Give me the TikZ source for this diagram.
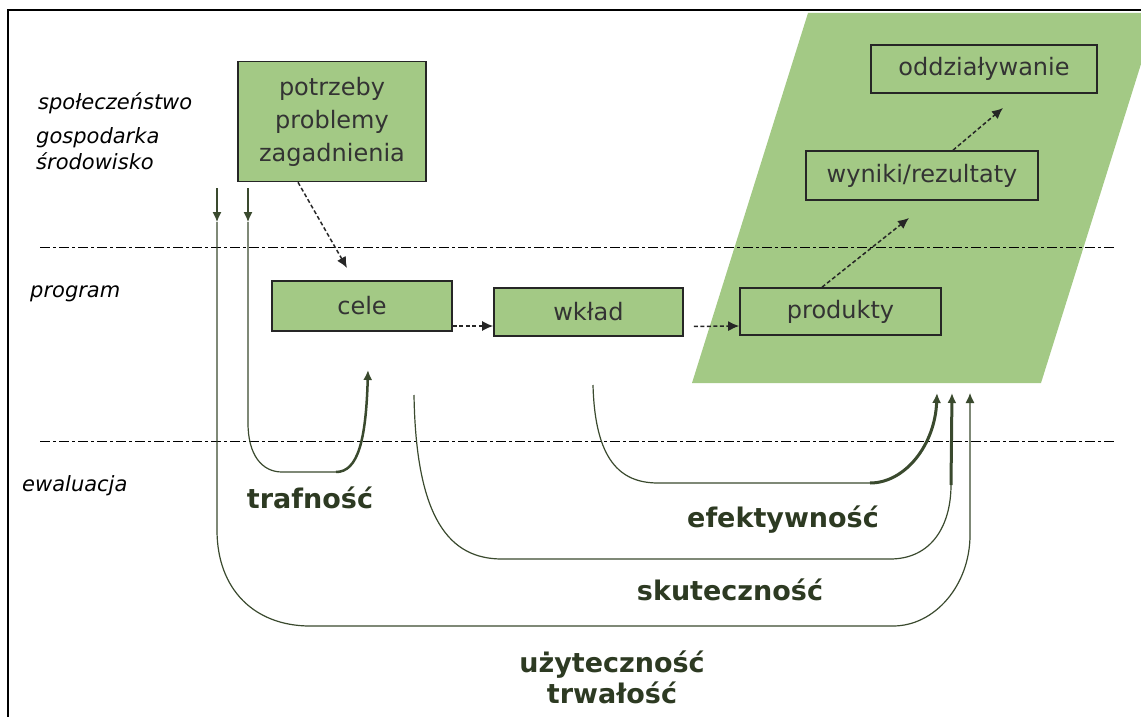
\documentclass[tikz,border=0pt]{standalone}
\usepackage{fontspec}
\setmainfont{DejaVu Sans}
\usetikzlibrary{arrows.meta}
\definecolor{fillg}{HTML}{A3C985}
\definecolor{lineg}{HTML}{3A4A2E}
\definecolor{txtg}{HTML}{2D3A22}
\begin{document}
\begin{tikzpicture}[x=1pt,y=-1pt,
  box/.style={draw=black!85, line width=1.6pt, inner sep=0pt, font=\fontsize{24}{33}\selectfont, text=black!80, align=center},
  gbox/.style={box, fill=fillg},
  dasharrow/.style={draw=black!85, line width=1.5pt, dash pattern=on 4pt off 2.5pt, -{Latex[length=11pt,width=10pt]}},
  evline/.style={draw=lineg, line width=1.2pt},
  evthick/.style={draw=lineg, line width=3pt},
  evtip/.style={-{Latex[length=10pt,width=9pt]}},
  side/.style={font=\fontsize{21}{25}\selectfont\itshape, anchor=base west, inner sep=0pt},
  evlabel/.style={font=\fontsize{27}{31}\selectfont\bfseries, text=txtg, align=center},
  level/.style={draw=black, line width=1pt, dash pattern=on 10pt off 3pt on 3pt off 3pt}
]
\useasboundingbox (0,0) rectangle (1141,717);
% frame
\draw[line width=2pt] (8,717) -- (8,10) -- (1141,10);
% green parallelogram
\begin{scope}
\clip (0,0) rectangle (1141,717);
\fill[fillg] (808,13) -- (1157,13) -- (1041,383) -- (692,383) -- cycle;
\end{scope}
% level lines
\draw[level] (40,247) -- (1115,247);
\draw[level] (40,441) -- (1115,441);
% side labels
\node[side] (spol) at (38,110) {społeczeństwo};
\node[side] (gosp) at (36,143) {gospodarka};
\node[side] (srod) at (36,169) {środowisko};
\node[side] (prog) at (30,297) {program};
\node[side] (ewal) at (22,491) {ewaluacja};
% boxes
\node[gbox, minimum width=188pt, minimum height=120pt] (pot) at (332,121.5) {potrzeby\\problemy\\zagadnienia};
\node[gbox, minimum width=180pt, minimum height=50pt] (cele) at (362,306) {cele};
\node[gbox, minimum width=189pt, minimum height=48pt] (wk) at (588.5,312) {wkład};
\node[box, minimum width=201pt, minimum height=47pt] (prod) at (840.5,311.5) {produkty};
\node[box, minimum width=232pt, minimum height=49pt] (wyn) at (922,175.5) {wyniki/rezultaty};
\node[box, minimum width=226pt, minimum height=48pt] (odd) at (984,69) {oddziaływanie};
% dashed arrows
\coordinate (c1) at (347,268);
\coordinate (c2) at (909,218);
\coordinate (c3) at (1003,108);
\draw[dasharrow] ([xshift=-34pt]pot.south) -- (c1);
\draw[dasharrow] ([yshift=-20pt]cele.east) -- ([yshift=-14pt]wk.west);
\draw[dasharrow, shorten <=10pt] ([yshift=-14.5pt]wk.east) -- ([yshift=-14.5pt]prod.west);
\draw[dasharrow] ([xshift=-18.5pt]prod.north) -- (c2);
\draw[dasharrow] ([xshift=31pt]wyn.north) -- (c3);
% evaluation curves
\coordinate (a0) at (217,188);
\coordinate (a1) at (217,222);
\coordinate (aE) at (970,393);
\draw[evline, evtip] (a0) -- (a1);
\draw[evline, evtip] (a1) -- (217,530) .. controls (217,590) and (255,626) .. (310,626)
  -- (893,626) .. controls (935,626) and (970,585) .. (970,535) -- (aE);
\coordinate (d0) at (248,188);
\coordinate (d1) at (248,222);
\coordinate (dE) at (368,370);
\draw[evline, evtip] (d0) -- (d1);
\draw[evline] (d1) -- (248,423) .. controls (248,455) and (262,472) .. (282,472) -- (336,472);
\draw[draw=lineg, line width=2.5pt, evtip] (336,472) .. controls (358,472) and (366,440) .. (dE);
\coordinate (b0) at (414,395);
\coordinate (bE) at (952,393);
\draw[evline] (b0) .. controls (416,520) and (450,559) .. (502,559) -- (890,559)
  .. controls (932,559) and (951,525) .. (951,485);
\draw[evthick, evtip] (951,485) -- (bE);
\coordinate (e0) at (593,385);
\coordinate (eE) at (937,393);
\draw[evline] (e0) .. controls (595,460) and (620,483) .. (658,483) -- (870,483);
\draw[evthick, evtip] (870,483) .. controls (905,483) and (935,445) .. (eE);
% evaluation labels
\node[evlabel] (traf) at (310,498) {trafność};
\node[evlabel] (efek) at (783,520) {efektywność};
\node[evlabel] (skut) at (730,590) {skuteczność};
\node[evlabel] (uzyt) at (612,677) {użyteczność\\trwałość};
\end{tikzpicture}
\end{document}
